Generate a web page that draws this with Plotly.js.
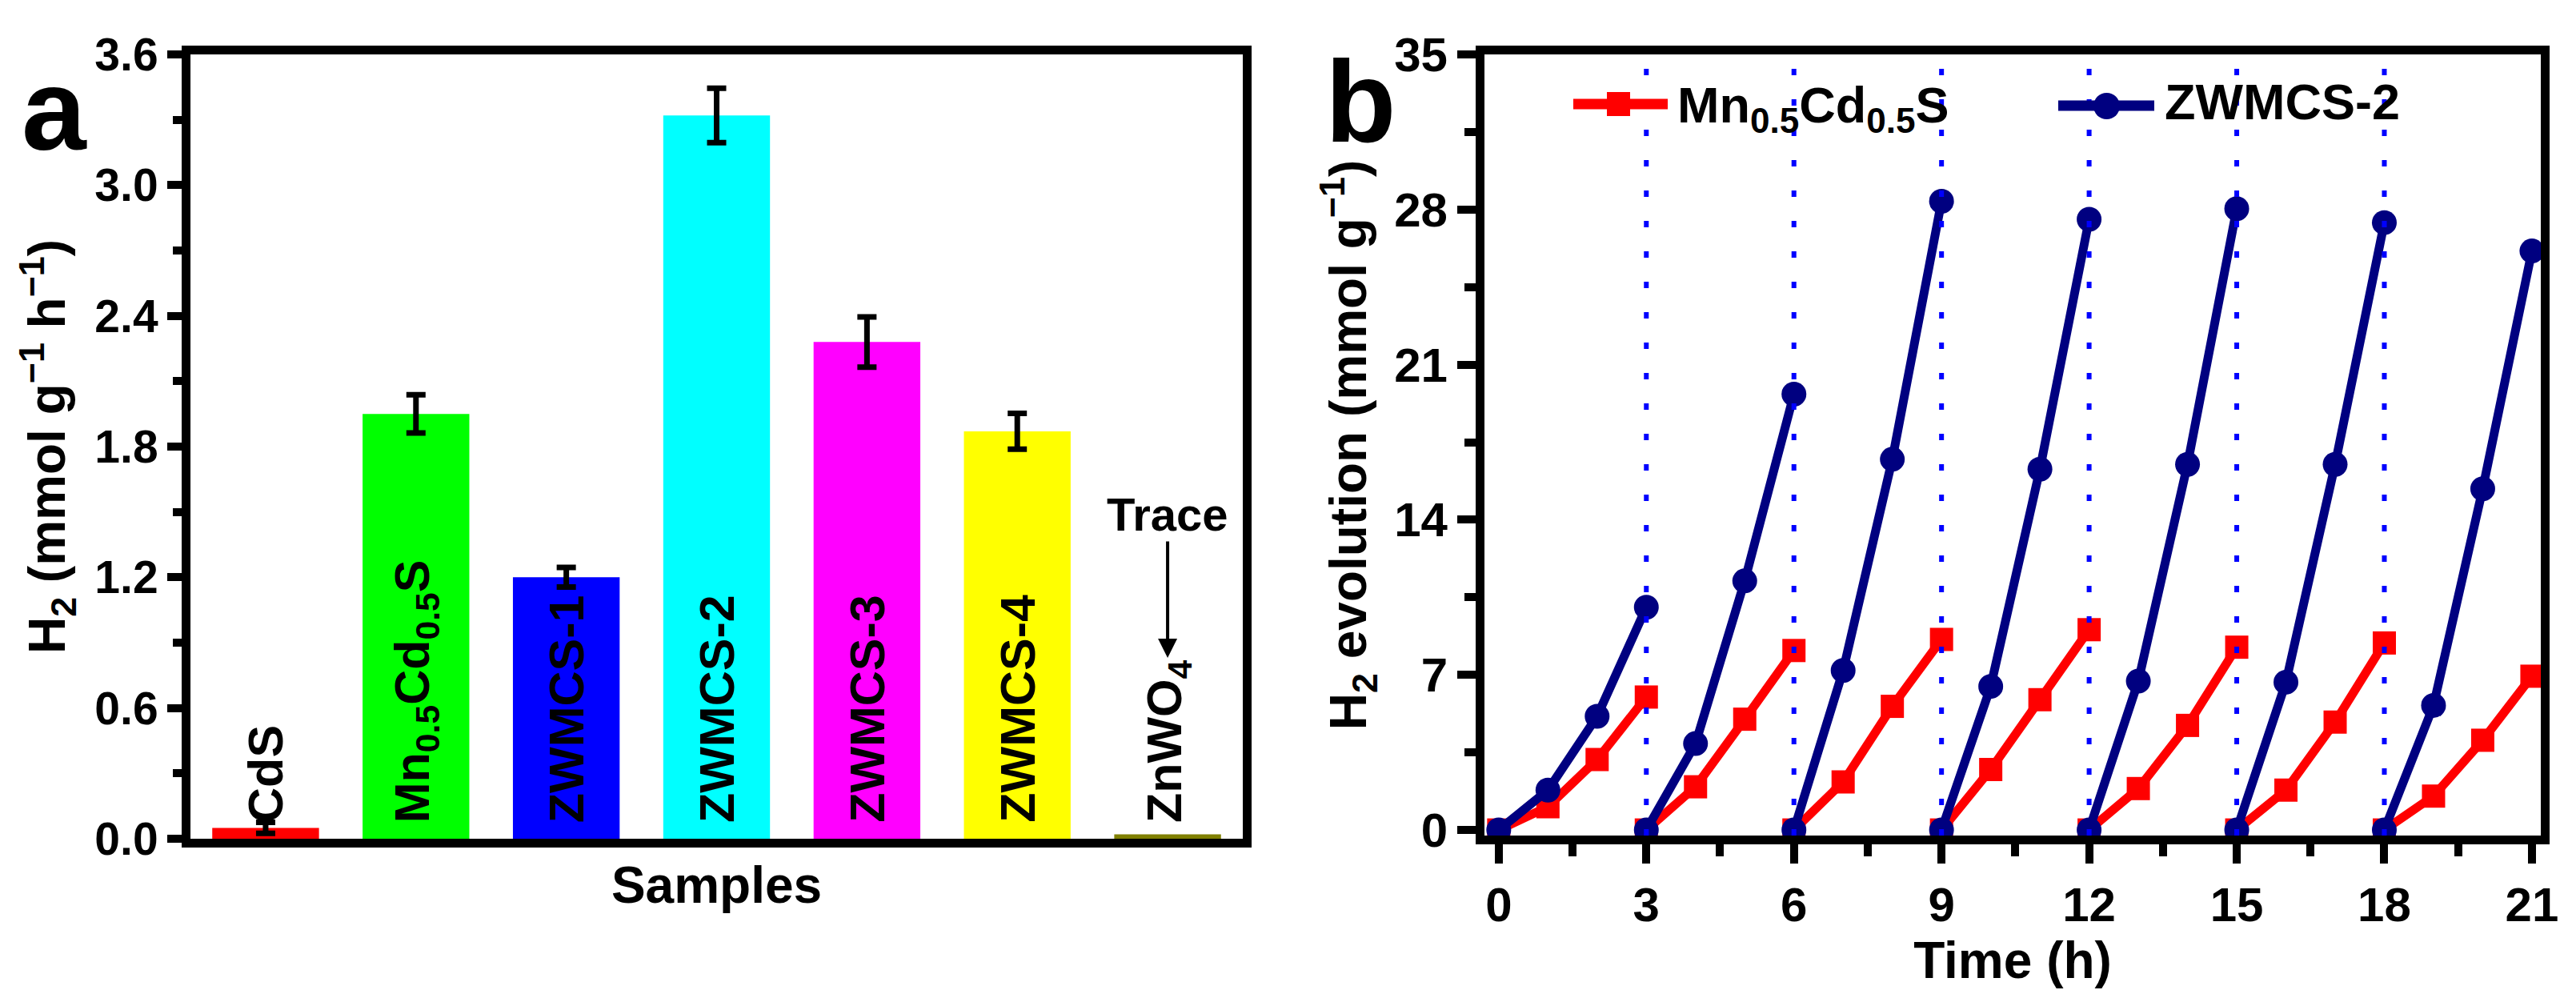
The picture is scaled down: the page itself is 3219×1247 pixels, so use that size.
<!DOCTYPE html>
<html>
<head>
<meta charset="utf-8">
<script src="https://cdn.plot.ly/plotly-3.0.1.min.js"></script>
<style>html,body{margin:0;padding:0;background:#fff;}#chart{width:3219px;height:1247px;}</style>
</head>
<body>
<div id="chart"></div>
<script>
// ---------- data (panel a) ----------
const samples = ['CdS', 'Mn0.5Cd0.5S', 'ZWMCS-1', 'ZWMCS-2', 'ZWMCS-3', 'ZWMCS-4', 'ZnWO4'];
const sampleLabels = ['CdS', 'Mn<sub>0.5</sub>Cd<sub>0.5</sub>S', 'ZWMCS-1', 'ZWMCS-2', 'ZWMCS-3', 'ZWMCS-4', 'ZnWO<sub>4</sub>'];
const h2Rate = [0.05, 1.95, 1.20, 3.32, 2.28, 1.87, 0.02];
const h2RateErr = [0.025, 0.088, 0.045, 0.125, 0.115, 0.082];   // ZnWO4: no error bar (trace)
const barColors = ['#ff0000', '#00ff00', '#0000ff', '#00ffff', '#ff00ff', '#ffff00', '#808000'];
const yTicksA = [0, 0.6, 1.2, 1.8, 2.4, 3.0, 3.6];

// ---------- data (panel b) ----------
const timeH = [0, 1, 2, 3, null, 3, 4, 5, 6, null, 6, 7, 8, 9, null, 9, 10, 11, 12, null,
               12, 13, 14, 15, null, 15, 16, 17, 18, null, 18, 19, 20, 21];
const mcsEvolution = [0, 1.05, 3.18, 6.0, null, 0, 1.95, 5.0, 8.1, null, 0, 2.17, 5.58, 8.6, null,
                      0, 2.73, 5.88, 9.04, null, 0, 1.87, 4.72, 8.25, null, 0, 1.8, 4.87, 8.44, null,
                      0, 1.53, 4.05, 6.94];
const zwmcsEvolution = [0, 1.8, 5.13, 10.05, null, 0, 3.9, 11.24, 19.67, null, 0, 7.2, 16.73, 28.37, null,
                        0, 6.48, 16.28, 27.56, null, 0, 6.72, 16.5, 28.04, null, 0, 6.67, 16.5, 27.41, null,
                        0, 5.62, 15.4, 26.13];
const cycleEnds = [3, 6, 9, 12, 15, 18];
const xTicksB = [0, 3, 6, 9, 12, 15, 18, 21];
const yTicksB = [0, 7, 14, 21, 28, 35];

// ---------- layout helpers (pixel -> paper) ----------
const W = 3219, H = 1247;
const fx = p => p / W;
const fy = p => 1 - p / H;
const FONT = 'Liberation Sans, Arial, Helvetica, sans-serif';
const bold = (size, color) => ({family: FONT, size: size, weight: 'bold', color: color || '#000'});

const traces = [
  {
    type: 'bar', x: samples, y: h2Rate, xaxis: 'x', yaxis: 'y',
    marker: {color: barColors, line: {width: 0}},
    error_y: {type: 'data', array: h2RateErr, visible: true, color: '#000', thickness: 7, width: 12},
    hoverinfo: 'skip'
  },
  {
    type: 'scatter', mode: 'lines+markers', name: 'Mn0.5Cd0.5S', x: timeH, y: mcsEvolution,
    xaxis: 'x2', yaxis: 'y2', connectgaps: false, cliponaxis: false,
    line: {color: '#ff0000', width: 11},
    marker: {symbol: 'square', size: 29, color: '#ff0000'}
  },
  {
    type: 'scatter', mode: 'lines+markers', name: 'ZWMCS-2', x: timeH, y: zwmcsEvolution,
    xaxis: 'x2', yaxis: 'y2', connectgaps: false, cliponaxis: false,
    line: {color: '#000080', width: 11},
    marker: {symbol: 'circle', size: 31, color: '#000080'}
  }
];

const shapes = cycleEnds.map(t => ({
  type: 'line', xref: 'x2', yref: 'y2 domain', x0: t, x1: t, y0: 0, y1: 1, layer: 'above',
  line: {color: '#0000ff', width: 6, dash: '8px,30px'}
}));
// custom legend keys (panel b)
shapes.push(
  {type: 'line', xref: 'paper', yref: 'paper', x0: fx(1966), x1: fx(2084), y0: fy(130), y1: fy(130), line: {color: '#ff0000', width: 13}},
  {type: 'rect', xref: 'paper', yref: 'paper', x0: fx(2008), x1: fx(2037), y0: fy(115), y1: fy(145), fillcolor: '#ff0000', line: {width: 0}},
  {type: 'line', xref: 'paper', yref: 'paper', x0: fx(2572), x1: fx(2692), y0: fy(132), y1: fy(132), line: {color: '#000080', width: 13}},
  {type: 'circle', xref: 'paper', yref: 'paper', x0: fx(2616), x1: fx(2649), y0: fy(116), y1: fy(149), fillcolor: '#000080', line: {width: 0}}
);

const annotations = samples.map((s, i) => ({
  xref: 'x', yref: 'y', x: s, y: 0, text: sampleLabels[i], textangle: -90, showarrow: false,
  xanchor: 'center', yanchor: 'bottom', yshift: 18, font: bold(61)
}));
annotations.push(
  {xref: 'x', yref: 'y', axref: 'x', ayref: 'y', x: samples[6], y: 0.83, ax: samples[6], ay: 1.49,
   text: 'Trace', showarrow: true, arrowhead: 2, arrowsize: 1.2, arrowwidth: 4, arrowcolor: '#000',
   font: bold(58)},
  {xref: 'paper', yref: 'paper', x: fx(68), y: fy(137), text: 'a', showarrow: false, xanchor: 'center', yanchor: 'middle', font: bold(145)},
  {xref: 'paper', yref: 'paper', x: fx(1700), y: fy(127), text: 'b', showarrow: false, xanchor: 'center', yanchor: 'middle', font: bold(145)},
  {xref: 'paper', yref: 'paper', x: fx(2094), y: fy(135), text: 'Mn<sub>0.5</sub>Cd<sub>0.5</sub>S', showarrow: false, xanchor: 'left', yanchor: 'middle', font: bold(63)},
  {xref: 'paper', yref: 'paper', x: fx(2703), y: fy(127), text: 'ZWMCS-2', showarrow: false, xanchor: 'left', yanchor: 'middle', font: bold(63)}
);

const axisBase = {
  showline: true, linewidth: 11, linecolor: '#000', mirror: true,
  showgrid: false, zeroline: false, ticks: 'outside', tickcolor: '#000', tickwidth: 10
};

const layout = {
  width: W, height: H,
  margin: {l: 0, r: 0, t: 0, b: 0, pad: 0},
  paper_bgcolor: '#fff', plot_bgcolor: '#fff',
  showlegend: false, bargap: 0.29,
  font: bold(56),
  xaxis: Object.assign({}, axisBase, {
    domain: [fx(238), fx(1553)], anchor: 'y', type: 'category', range: [-0.5, 6.5],
    ticks: '', showticklabels: false,
    title: {text: 'Samples', font: bold(64), standoff: 30}
  }),
  yaxis: Object.assign({}, axisBase, {
    domain: [fy(1048), fy(68)], anchor: 'x', range: [0, 3.6],
    tickmode: 'array', tickvals: yTicksA, ticktext: yTicksA.map(v => v.toFixed(1)),
    ticklen: 18, tickfont: bold(57),
    minor: {dtick: 0.3, tick0: 0, ticks: 'outside', ticklen: 11, tickwidth: 10, tickcolor: '#000'},
    title: {text: 'H<sub>2</sub> (mmol g<sup>\u22121</sup> h<sup>\u22121</sup>)', font: bold(64), standoff: 20}
  }),
  xaxis2: Object.assign({}, axisBase, {
    domain: [fx(1855), fx(3175)], anchor: 'y2', range: [-0.29, 21.18],
    tickmode: 'array', tickvals: xTicksB,
    ticklen: 24, tickfont: bold(60),
    minor: {dtick: 1.5, tick0: 0, ticks: 'outside', ticklen: 15, tickwidth: 10, tickcolor: '#000'},
    title: {text: 'Time (h)', font: bold(64), standoff: 15}
  }),
  yaxis2: Object.assign({}, axisBase, {
    domain: [fy(1044), fy(68)], anchor: 'x2', range: [-0.25, 35],
    tickmode: 'array', tickvals: yTicksB,
    ticklen: 23, tickfont: bold(60),
    minor: {dtick: 3.5, tick0: 0, ticks: 'outside', ticklen: 14, tickwidth: 10, tickcolor: '#000'},
    title: {text: 'H<sub>2</sub> evolution (mmol g<sup>\u22121</sup>)', font: bold(64), standoff: 18}
  }),
  shapes: shapes,
  annotations: annotations
};

Plotly.newPlot('chart', traces, layout, {displayModeBar: false, staticPlot: true});
</script>
</body>
</html>
